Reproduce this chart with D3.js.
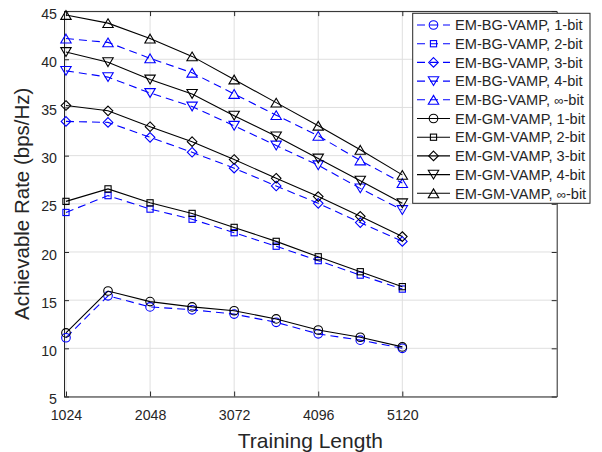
<!DOCTYPE html>
<html>
<head>
<meta charset="utf-8">
<script src="https://cdn.jsdelivr.net/npm/d3@7"></script>
<style>
  html, body { margin: 0; padding: 0; background: #fff; }
  svg { display: block; }
  text { font-family: "Liberation Sans", Arial, Helvetica, sans-serif; fill: #262626; }
</style>
</head>
<body>
<svg id="chart" width="602" height="452"></svg>
<script>
// ---- data ----
const trainingLengths = [1024, 1536, 2048, 2560, 3072, 3584, 4096, 4608, 5120];
const xTickValues = [1024, 2048, 3072, 4096, 5120];
const yTickValues = [5, 10, 15, 20, 25, 30, 35, 40, 45];

const bg1   = [11.1, 15.45, 14.3, 14.0, 13.55, 12.7, 11.5, 10.85, 10.0];
const bg2   = [24.1, 25.85, 24.45, 23.4, 22.0, 20.6, 19.1, 17.6, 16.15];
const bg3   = [33.55, 33.45, 31.9, 30.35, 28.7, 26.85, 25.05, 23.05, 21.1];
const bg4   = [38.8, 38.15, 36.5, 35.1, 33.1, 31.05, 29.0, 26.6, 24.35];
const bgInf = [42.15, 41.75, 40.1, 38.6, 36.4, 34.2, 32.05, 29.5, 27.15];

const gm1   = [11.6, 15.95, 14.85, 14.3, 13.9, 13.05, 11.9, 11.15, 10.15];
const gm2   = [25.25, 26.55, 25.1, 24.0, 22.55, 21.1, 19.5, 17.95, 16.4];
const gm3   = [35.2, 34.65, 33.0, 31.45, 29.6, 27.65, 25.75, 23.7, 21.6];
const gm4   = [40.75, 39.7, 37.9, 36.4, 34.15, 32.0, 29.7, 27.4, 25.05];
const gmInf = [44.6, 43.75, 42.15, 40.3, 37.9, 35.5, 33.1, 30.6, 28.0];

const seriesNames = [
  "EM-BG-VAMP, 1-bit", "EM-BG-VAMP, 2-bit", "EM-BG-VAMP, 3-bit", "EM-BG-VAMP, 4-bit", "EM-BG-VAMP, \u221E-bit",
  "EM-GM-VAMP, 1-bit", "EM-GM-VAMP, 2-bit", "EM-GM-VAMP, 3-bit", "EM-GM-VAMP, 4-bit", "EM-GM-VAMP, \u221E-bit"
];
const seriesValues = [bg1, bg2, bg3, bg4, bgInf, gm1, gm2, gm3, gm4, gmInf];
const seriesMarkers = ["circle", "square", "diamond", "down", "up", "circle", "square", "diamond", "down", "up"];
const seriesColors = ["#0000ff","#0000ff","#0000ff","#0000ff","#0000ff","#000000","#000000","#000000","#000000","#000000"];
const seriesDashed = [true, true, true, true, true, false, false, false, false, false];

const xLabel = "Training Length";
const yLabel = "Achievable Rate (bps/Hz)";

// ---- layout ----
const svg = d3.select("#chart");
const L = 64, R = 556.7, T = 11.1, B = 396.5;
const x = d3.scaleLinear().domain([1000, 7000]).range([L, R]);
const y = d3.scaleLinear().domain([5, 45]).range([B, T]);
const axisColor = "#262626";

// grid
const grid = svg.append("g");
grid.selectAll("line.gx").data(xTickValues).enter().append("line")
  .attr("x1", d => x(d)).attr("x2", d => x(d)).attr("y1", T).attr("y2", B)
  .attr("stroke", "#dfdfdf").attr("stroke-width", 1);
grid.selectAll("line.gy").data(yTickValues).enter().append("line")
  .attr("x1", L).attr("x2", R).attr("y1", d => y(d)).attr("y2", d => y(d))
  .attr("stroke", "#dfdfdf").attr("stroke-width", 1);

// axes via d3 axis generators (inward ticks)
const fmt = d3.format("d");
const xAxisB = d3.axisBottom(x).tickValues(xTickValues).tickFormat(fmt).tickSizeInner(-5).tickSizeOuter(0).tickPadding(12);
const xAxisT = d3.axisTop(x).tickValues(xTickValues).tickSizeInner(-5).tickSizeOuter(0).tickFormat("");
const yAxisL = d3.axisLeft(y).tickValues(yTickValues).tickFormat(fmt).tickSizeInner(-5).tickSizeOuter(0).tickPadding(12);
const yAxisR = d3.axisRight(y).tickValues(yTickValues).tickSizeInner(-5).tickSizeOuter(0).tickFormat("");

function styleAxis(g) {
  g.select(".domain").attr("stroke", axisColor).attr("stroke-width", 1);
  g.selectAll(".tick line").attr("stroke", axisColor).attr("stroke-width", 1);
  g.selectAll(".tick text").attr("fill", axisColor).attr("font-size", "14.2px")
    .attr("font-family", '"Liberation Sans", Arial, sans-serif');
}
const gxB = svg.append("g").attr("transform", `translate(0,${B})`).call(xAxisB).call(styleAxis);
gxB.selectAll(".tick text").attr("dy", null).attr("y", 23.5);
svg.append("g").attr("transform", `translate(0,${T})`).call(xAxisT).call(styleAxis);
const gyL = svg.append("g").attr("transform", `translate(${L},0)`).call(yAxisL).call(styleAxis);
gyL.selectAll(".tick text").attr("x", -7).attr("dy", "0.5em");
svg.append("g").attr("transform", `translate(${R},0)`).call(yAxisR).call(styleAxis);

// axis labels
svg.append("text").attr("x", (L + R) / 2).attr("y", 447.5).attr("text-anchor", "middle")
  .attr("font-size", "21px").text(xLabel);
svg.append("text").attr("transform", `translate(29,${(T + B) / 2}) rotate(-90)`)
  .attr("text-anchor", "middle").attr("font-size", "20.5px").text(yLabel);

// marker drawing
function drawMarker(g, type, cx, cy, color) {
  let el;
  if (type === "circle") {
    el = g.append("circle").attr("cx", cx).attr("cy", cy).attr("r", 4.3);
  } else if (type === "square") {
    el = g.append("rect").attr("x", cx - 3.1).attr("y", cy - 3.1).attr("width", 6.2).attr("height", 6.2);
  } else if (type === "diamond") {
    const s = 4.8;
    el = g.append("path").attr("d", `M${cx},${cy - s}L${cx + s},${cy}L${cx},${cy + s}L${cx - s},${cy}Z`);
  } else if (type === "up") {
    const w = 5.2, h = 4.4;
    el = g.append("path").attr("d", `M${cx},${cy - h}L${cx + w},${cy + h}L${cx - w},${cy + h}Z`);
  } else {
    const w = 5.2, h = 4.4;
    el = g.append("path").attr("d", `M${cx},${cy + h}L${cx + w},${cy - h}L${cx - w},${cy - h}Z`);
  }
  el.attr("fill", "none").attr("stroke", color).attr("stroke-width", 1.1);
}

// series
const line = d3.line().x(d => x(d[0])).y(d => y(d[1]));
const plot = svg.append("g");
seriesValues.forEach((vals, i) => {
  const pts = trainingLengths.map((t, j) => [t, vals[j]]);
  const g = plot.append("g");
  g.append("path").attr("d", line(pts)).attr("fill", "none")
    .attr("stroke", seriesColors[i]).attr("stroke-width", 1.1)
    .attr("stroke-dasharray", seriesDashed[i] ? "8,5" : null);
  pts.forEach(p => drawMarker(g, seriesMarkers[i], x(p[0]), y(p[1]), seriesColors[i]));
});

// legend
const lg = svg.append("g");
lg.append("rect").attr("x", 412.7).attr("y", 13.3).attr("width", 177.3).attr("height", 190)
  .attr("fill", "#fff").attr("stroke", axisColor).attr("stroke-width", 1);
seriesNames.forEach((name, i) => {
  const cy = 25 + i * 18.7;
  lg.append("line").attr("x1", 417).attr("x2", 450).attr("y1", cy).attr("y2", cy)
    .attr("stroke", seriesColors[i]).attr("stroke-width", 1.1)
    .attr("stroke-dasharray", seriesDashed[i] ? "8,5" : null);
  drawMarker(lg, seriesMarkers[i], 433.5, cy, seriesColors[i]);
  const t = lg.append("text").attr("x", 455).attr("y", cy).attr("dy", "0.36em")
    .attr("font-size", "14.6px");
  name.split(/(\u221E)/).forEach(part => {
    if (!part) return;
    const ts = t.append("tspan").text(part);
    if (part === "\u221E") ts.attr("font-size", "13px");
  });
});
</script>
</body>
</html>
